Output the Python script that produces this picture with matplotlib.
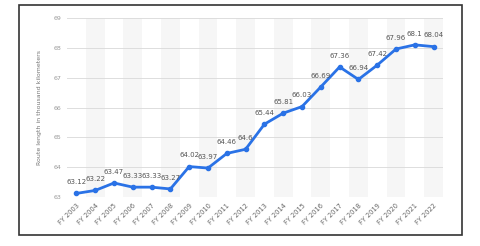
import matplotlib.pyplot as plt
from matplotlib.patches import Rectangle

years = ["FY 2003", "FY 2004", "FY 2005", "FY 2006", "FY 2007", "FY 2008", "FY 2009",
         "FY 2010", "FY 2011", "FY 2012", "FY 2013", "FY 2014", "FY 2015", "FY 2016",
         "FY 2017", "FY 2018", "FY 2019", "FY 2020", "FY 2021", "FY 2022"]
lengths = [63.12, 63.22, 63.47, 63.33, 63.33, 63.27, 64.02, 63.97, 64.46, 64.6,
           65.44, 65.81, 66.03, 66.69, 67.36, 66.94, 67.42, 67.96, 68.1, 68.04]
labels = ["63.12", "63.22", "63.47", "63.33", "63.33", "63.27", "64.02", "63.97", "64.46", "64.6",
          "65.44", "65.81", "66.03", "66.69", "67.36", "66.94", "67.42", "67.96", "68.1", "68.04"]
yticks = [63, 64, 65, 66, 67, 68, 69]

fig = plt.figure(figsize=(4.8, 2.46), dpi=100)
# outer frame
fig.patches.append(Rectangle((19 / 480, 1 - 235 / 246), (462 - 19) / 480, (235 - 5) / 246,
                             transform=fig.transFigure, fill=False, edgecolor="#333333", lw=1.2))

ax = fig.add_axes([67 / 480, 1 - 197 / 246, (443 - 67) / 480, (197 - 18) / 246])
x = list(range(len(years)))
for i in x:
    if i % 2 == 1:
        ax.axvspan(i - 0.5, i + 0.5, color="#f6f6f6", lw=0, zorder=0)
for t in yticks:
    ax.axhline(t, color="#dddddd", lw=0.7, zorder=1)

ax.plot(x, lengths, color="#2a72e6", lw=2, marker="o", ms=3, zorder=3)
for xi, v, lab in zip(x, lengths, labels):
    ax.annotate(lab, (xi, v), xytext=(0, 6), textcoords="offset points",
                ha="center", va="bottom", fontsize=5, color="#555555")

ax.set_xlim(-0.5, len(years) - 0.5)
ax.set_ylim(63, 69)
ax.set_yticks(yticks)
ax.set_yticklabels([str(t) for t in yticks], fontsize=4.5, color="#999999")
ax.set_xticks(x)
ax.set_xticklabels(years, rotation=45, ha="right", rotation_mode="anchor", fontsize=4.8, color="#666666")
ax.tick_params(length=0, pad=4)
ax.set_ylabel("Route length in thousand kilometers", fontsize=4.5, color="#777777", labelpad=8)
for s in ax.spines.values():
    s.set_visible(False)

fig.savefig("out.png", dpi=100)
